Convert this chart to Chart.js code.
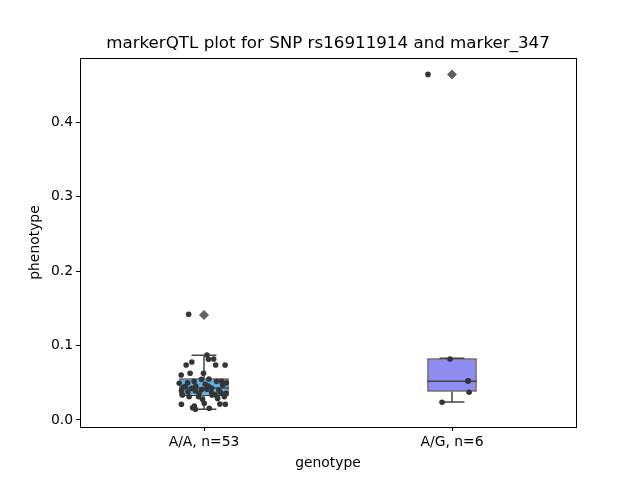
<!DOCTYPE html>
<html>
<head>
<meta charset="utf-8">
<script src="https://cdn.jsdelivr.net/npm/chart.js@4"></script>
<style>
  html, body { margin: 0; padding: 0; background: #fff; }
  #wrap { width: 640px; height: 480px; }
</style>
</head>
<body>
<div id="wrap"><canvas id="chart" width="640" height="480"></canvas></div>
<script>
// genotype groups
const genotypes = ['A/A, n=53', 'A/G, n=6'];
const boxColors = ['#58b3e6', '#8f8df2'];

// box statistics
const whiskerLow = [0.0145, 0.024];
const q1 = [0.032, 0.038];
const median = [0.043, 0.052];
const q3 = [0.056, 0.083];
const whiskerHigh = [0.087, 0.083];
const outliers = [0.141, 0.464];

// strip points, A/A group (jitter offset, phenotype)
const aaJitter = [-0.062, 0.012, 0.018, 0.039, -0.072, -0.049, 0.047, 0.085, -0.092, -0.056,
  -0.002, -0.010, 0.051, 0.071, -0.100, -0.066, -0.033, 0.017, -0.083, -0.049,
  -0.091, -0.035, 0.012, 0.031, 0.068, 0.089, -0.087, 0.032, -0.060, -0.022,
  0.082, -0.006, 0.001, -0.091, 0.064, 0.086, -0.039, -0.046, -0.035, 0.021,
  -0.075, 0.005, 0.060, -0.020, -0.040, 0.030, 0.045, 0.090, -0.065, 0.075,
  -0.010, 0.020, 0.055];
const aaValues = [0.142, 0.0872, 0.0815, 0.0819, 0.0738, 0.0779, 0.0738, 0.0738, 0.0604, 0.0627,
  0.0627, 0.0546, 0.0519, 0.0519, 0.0493, 0.0501, 0.0456, 0.0456, 0.0439, 0.0425,
  0.0393, 0.0393, 0.0412, 0.0366, 0.0366, 0.0358, 0.0336, 0.0336, 0.0313, 0.0313,
  0.0313, 0.0278, 0.0224, 0.0211, 0.0215, 0.0211, 0.0188, 0.0165, 0.0144, 0.0157,
  0.045, 0.048, 0.040, 0.036, 0.052, 0.043, 0.034, 0.050, 0.038, 0.047,
  0.041, 0.055, 0.029];

// strip points, A/G group
const agJitter = [-0.008, 0.066, 0.064, 0.069, -0.040, -0.097];
const agValues = [0.0819, 0.0528, 0.0522, 0.0372, 0.0238, 0.464];

const yTicks = [0.0, 0.1, 0.2, 0.3, 0.4];

const stripPoints = [];
aaValues.forEach((v, i) => stripPoints.push({ x: 0 + aaJitter[i], y: v }));
agValues.forEach((v, i) => stripPoints.push({ x: 1 + agJitter[i], y: v }));

const fontFamily = "'DejaVu Sans', sans-serif";
const edge = '#444444';

// whiskers, caps and medians, drawn right after the boxes
const boxLines = {
  id: 'boxLines',
  afterDatasetDraw(chart, args) {
    if (args.index !== 0) return;
    const ctx = chart.ctx;
    const xs = chart.scales.xj;
    const ys = chart.scales.y;
    ctx.save();
    ctx.strokeStyle = edge;
    ctx.lineWidth = 1.5;
    genotypes.forEach((g, i) => {
      const cx = xs.getPixelForValue(i);
      const capL = xs.getPixelForValue(i - 0.05);
      const capR = xs.getPixelForValue(i + 0.05);
      const boxL = xs.getPixelForValue(i - 0.1);
      const boxR = xs.getPixelForValue(i + 0.1);
      ctx.beginPath();
      ctx.moveTo(cx, ys.getPixelForValue(q1[i]));
      ctx.lineTo(cx, ys.getPixelForValue(whiskerLow[i]));
      ctx.moveTo(capL, ys.getPixelForValue(whiskerLow[i]));
      ctx.lineTo(capR, ys.getPixelForValue(whiskerLow[i]));
      ctx.moveTo(cx, ys.getPixelForValue(q3[i]));
      ctx.lineTo(cx, ys.getPixelForValue(whiskerHigh[i]));
      ctx.moveTo(capL, ys.getPixelForValue(whiskerHigh[i]));
      ctx.lineTo(capR, ys.getPixelForValue(whiskerHigh[i]));
      ctx.moveTo(boxL, ys.getPixelForValue(median[i]));
      ctx.lineTo(boxR, ys.getPixelForValue(median[i]));
      ctx.stroke();
    });
    ctx.restore();
  }
};

// full frame around the plot area
const frame = {
  id: 'frame',
  afterDraw(chart) {
    const a = chart.chartArea;
    const ctx = chart.ctx;
    ctx.save();
    ctx.strokeStyle = '#000';
    ctx.lineWidth = 1;
    ctx.strokeRect(Math.round(a.left) + 0.5, Math.round(a.top) + 0.5,
      Math.round(a.right - a.left), Math.round(a.bottom - a.top));
    ctx.restore();
  }
};

new Chart(document.getElementById('chart').getContext('2d'), {
  type: 'bar',
  data: {
    labels: genotypes,
    datasets: [
      {
        label: 'box',
        data: q1.map((v, i) => [v, q3[i]]),
        backgroundColor: boxColors,
        borderColor: edge,
        borderWidth: 1.5,
        borderSkipped: false,
        grouped: false,
        barPercentage: 0.2,
        categoryPercentage: 1.0,
        order: 3
      },
      {
        type: 'scatter',
        label: 'outliers',
        xAxisID: 'xj',
        data: outliers.map((v, i) => ({ x: i, y: v })),
        pointStyle: 'rectRot',
        pointRadius: 4.5,
        backgroundColor: '#606060',
        borderColor: '#606060',
        order: 2
      },
      {
        type: 'scatter',
        label: 'points',
        xAxisID: 'xj',
        data: stripPoints,
        pointRadius: 2.8,
        backgroundColor: '#353535',
        borderWidth: 0,
        order: 1
      }
    ]
  },
  options: {
    responsive: false,
    animation: false,
    layout: { padding: { left: 16, right: 0, top: 34, bottom: 4 } },
    plugins: {
      legend: { display: false },
      tooltip: { enabled: false },
      title: {
        display: true,
        text: 'markerQTL plot for SNP rs16911914 and marker_347',
        color: '#000',
        font: { family: fontFamily, size: 16.7, weight: 'normal' },
        padding: { top: 0, bottom: 4 }
      }
    },
    scales: {
      x: {
        type: 'category',
        offset: true,
        grid: { display: true, drawOnChartArea: false, color: '#000', tickLength: 4, offset: false },
        border: { color: '#000' },
        ticks: { color: '#000', font: { family: fontFamily, size: 13.9 }, padding: 3 },
        title: { display: true, text: 'genotype', color: '#000', font: { family: fontFamily, size: 13.9 }, padding: { top: 4, bottom: 4 } },
        afterFit(scale) { scale.height = 49; }
      },
      xj: {
        type: 'linear',
        display: false,
        offset: false,
        min: -0.5,
        max: 1.5
      },
      y: {
        min: -0.0094,
        max: 0.486,
        grid: { display: true, drawOnChartArea: false, color: '#000', tickLength: 4 },
        border: { color: '#000' },
        afterBuildTicks(scale) { scale.ticks = yTicks.map(v => ({ value: v })); },
        ticks: {
          color: '#000',
          font: { family: fontFamily, size: 13.9 },
          padding: 3,
          callback: v => v.toFixed(1)
        },
        title: { display: true, text: 'phenotype', color: '#000', font: { family: fontFamily, size: 13.9 }, padding: { top: 11, bottom: 4 } },
        afterFit(scale) { scale.width = 64; }
      },
      yr: {
        position: 'right',
        display: true,
        grid: { display: false },
        border: { display: false },
        ticks: { display: false },
        afterFit(scale) { scale.width = 64; }
      }
    }
  },
  plugins: [boxLines, frame]
});
</script>
</body>
</html>
